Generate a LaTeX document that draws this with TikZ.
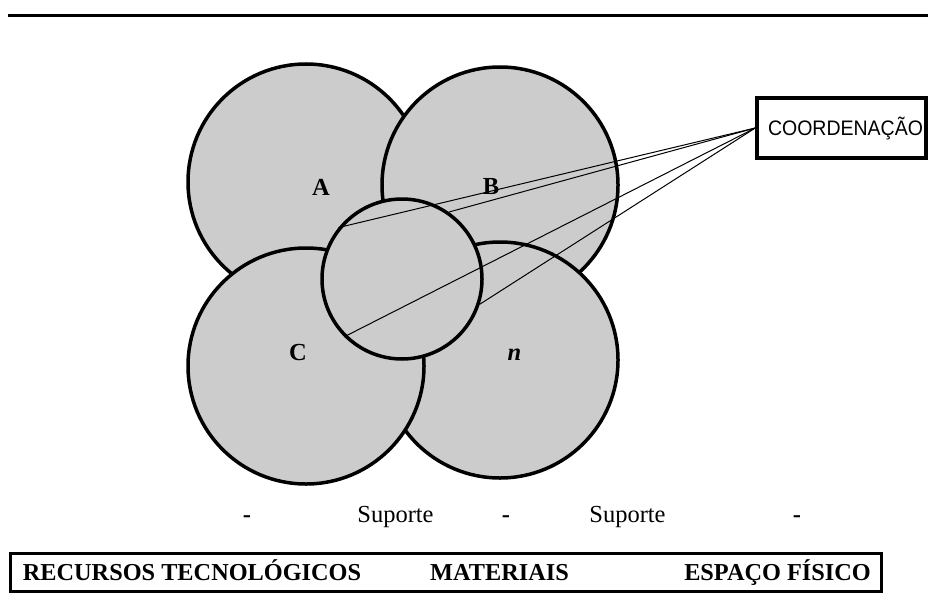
\documentclass[tikz,border=0pt]{standalone}
\usepackage{fontspec}
\usepackage{graphicx}
\setmainfont{Liberation Serif}
\newfontfamily\arialf{Liberation Sans}
\definecolor{bubblegray}{HTML}{CCCCCC}
\begin{document}
\begin{tikzpicture}[x=1pt,y=-1pt,
  bubble/.style={circle, draw=black, fill=bubblegray, line width=3.5pt, inner sep=0pt},
  biglbl/.style={inner sep=0pt, anchor=base, font=\fontsize{24.5}{28}\selectfont\bfseries},
  basetxt/.style={inner sep=0pt, font=\fontsize{24.3}{28}\selectfont\bfseries},
  suptxt/.style={inner sep=0pt, anchor=base, font=\fontsize{24.5}{28}\selectfont},
  conn/.style={line width=1pt, draw=black},
  framebox/.style={draw=black, inner sep=0pt, fill=white}]
\useasboundingbox (0,0) rectangle (928,610);
% top rule
\coordinate (topL) at (8,16);
\coordinate (topR) at (928,16);
\draw[line width=3pt] (topL) -- (topR);
% circles
\node[bubble, minimum size=236pt] (A) at (306,182) {};
\node[bubble, minimum size=236pt] (B) at (500,185) {};
\node[bubble, minimum size=236pt] (N) at (500,360) {};
\node[bubble, minimum size=236pt] (C) at (306,366) {};
\node[bubble, minimum size=160pt] (S) at (402,279) {};
% labels
\node[biglbl] (lA) at (321,195) {A};
\node[biglbl] (lB) at (491,194) {B};
\node[biglbl] (lC) at (298,360) {C};
\node[biglbl, font=\fontsize{24.5}{28}\selectfont\bfseries\itshape] (lN) at (514.5,360) {n};
% coordination box
\node[framebox, line width=3.5pt, minimum width=169pt, minimum height=60pt] (coord) at (841.5,128) {};
\node[inner sep=0pt, anchor=base] (coordtxt) at (845.5,135.7)
  {\resizebox{155pt}{\height}{\arialf\fontsize{21}{24}\selectfont COORDENAÇÃO}};
% connectors
\draw[conn] (coord.west) -- (S.141.7);
\draw[conn] (coord.west) -- (S.55.7);
\draw[conn] (coord.west) -- (S.225.5);
\draw[conn] (coord.west) -- (S.342.6);
% support line
\node[suptxt, font=\fontsize{24.5}{28}\selectfont\bfseries] (d1) at (247,522) {-};
\node[suptxt] (s1) at (395.5,522) {Suporte};
\node[suptxt, font=\fontsize{24.5}{28}\selectfont\bfseries] (d2) at (506,522) {-};
\node[suptxt] (s2) at (627.5,522) {Suporte};
\node[suptxt, font=\fontsize{24.5}{28}\selectfont\bfseries] (d3) at (797,522) {-};
% bottom box
\node[framebox, line width=3pt, minimum width=871pt, minimum height=38pt] (basebox) at (445.5,572) {};
\node[basetxt, anchor=base west] (t1) at (22.7,580) {RECURSOS TECNOLÓGICOS};
\node[basetxt, anchor=base west] (t2) at (430,580) {MATERIAIS};
\node[basetxt, anchor=base east] (t3) at (871,580) {ESPAÇO FÍSICO};
\end{tikzpicture}
\end{document}
